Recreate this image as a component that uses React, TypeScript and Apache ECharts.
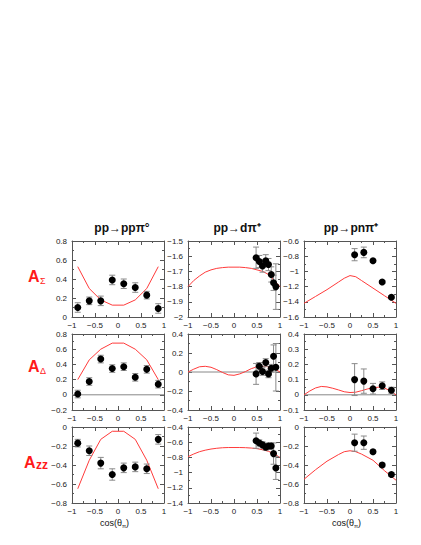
import React, { useEffect, useRef } from 'react';
import * as echarts from 'echarts';

// ---- data ----
const curveX17 = [-1, -0.875, -0.75, -0.625, -0.5, -0.375, -0.25, -0.125, 0, 0.125, 0.25, 0.375, 0.5, 0.625, 0.75, 0.875, 1];
const curveX8 = [-0.875, -0.625, -0.375, -0.125, 0.125, 0.375, 0.625, 0.875];
const curveX11 = [-1, -0.75, -0.5, -0.25, -0.125, 0, 0.125, 0.25, 0.5, 0.75, 1];

// pp -> pp pi0
const ppX = [-0.875, -0.625, -0.375, -0.125, 0.125, 0.375, 0.625, 0.875];
const ppSigmaY = [0.10, 0.17, 0.17, 0.39, 0.35, 0.31, 0.23, 0.09];
const ppSigmaE = [0.05, 0.04, 0.05, 0.05, 0.05, 0.05, 0.04, 0.05];
const ppSigmaCurve = [0.53, 0.30, 0.18, 0.125, 0.125, 0.18, 0.30, 0.53];
const ppDeltaY = [0.01, 0.175, 0.47, 0.345, 0.37, 0.23, 0.335, 0.14];
const ppDeltaE = [0.05, 0.05, 0.05, 0.05, 0.05, 0.05, 0.05, 0.05];
const ppDeltaCurve = [0.2, 0.46, 0.60, 0.68, 0.68, 0.60, 0.46, 0.2];
const ppZZY = [-0.17, -0.25, -0.38, -0.50, -0.43, -0.42, -0.44, -0.13];
const ppZZE = [0.04, 0.05, 0.06, 0.06, 0.05, 0.05, 0.05, 0.05];
const ppZZCurve = [-0.65, -0.35, -0.13, -0.045, -0.045, -0.13, -0.35, -0.65];

// pp -> d pi+
const dX = [0.48, 0.55, 0.62, 0.69, 0.75, 0.81, 0.86, 0.91];
const dSigmaY = [-1.61, -1.635, -1.665, -1.63, -1.655, -1.72, -1.775, -1.80];
const dSigmaE = [0.07, 0.04, 0.04, 0.04, 0.04, 0.05, 0.05, 0.15];
const dSigmaCurve = [-1.80, -1.76, -1.73, -1.705, -1.69, -1.68, -1.675, -1.672, -1.672, -1.672, -1.675, -1.68, -1.69, -1.70, -1.72, -1.76, -1.80];
const dDeltaY = [-0.02, 0.06, 0.005, 0.10, -0.02, 0.04, 0.165, 0.05];
const dDeltaE = [0.11, 0.04, 0.04, 0.04, 0.04, 0.04, 0.12, 0.25];
const dDeltaCurve = [0, 0.03, 0.055, 0.06, 0.05, 0.025, -0.005, -0.03, -0.035, -0.02, 0.005, 0.035, 0.055, 0.06, 0.055, 0.035, 0];
const dZZY = [-0.58, -0.61, -0.635, -0.665, -0.65, -0.65, -0.75, -0.94];
const dZZE = [0.1, 0.04, 0.04, 0.04, 0.04, 0.04, 0.14, 0.15];
const dZZCurve = [-0.79, -0.755, -0.725, -0.705, -0.69, -0.68, -0.673, -0.67, -0.67, -0.67, -0.672, -0.677, -0.685, -0.70, -0.72, -0.755, -0.80];

// pp -> pn pi+
const pnX = [0.1, 0.3, 0.5, 0.7, 0.9];
const pnSigmaY = [-0.78, -0.75, -0.86, -1.14, -1.34];
const pnSigmaE = [0.08, 0.07, 0.02, 0.02, 0.02];
const pnSigmaCurve = [-1.42, -1.33, -1.24, -1.14, -1.09, -1.055, -1.07, -1.12, -1.22, -1.32, -1.42];
const pnDeltaY = [0.10, 0.09, 0.04, 0.06, 0.03];
const pnDeltaE = [0.105, 0.08, 0.035, 0.025, 0.02];
const pnDeltaCurve = [0, 0.025, 0.045, 0.055, 0.052, 0.043, 0.032, 0.02, 0.015, 0.017, 0.027, 0.038, 0.047, 0.05, 0.045, 0.025, 0];
const pnZZY = [-0.165, -0.165, -0.26, -0.40, -0.50];
const pnZZE = [0.09, 0.07, 0.02, 0.02, 0.02];
const pnZZCurve = [-0.55, -0.45, -0.36, -0.29, -0.26, -0.25, -0.26, -0.285, -0.35, -0.46, -0.56];

const titles = ['pp→ppπ°', 'pp→dπ⁺', 'pp→pnπ⁺'];
const rowLabels = ['Σ', 'Δ', 'zz'];

type Panel = {
  px: number[]; py: number[]; pe: number[];
  cx: number[]; cy: number[];
  ymin: number; ymax: number; yint: number; zero: boolean;
};

const panels: Panel[] = [
  { px: ppX, py: ppSigmaY, pe: ppSigmaE, cx: curveX8, cy: ppSigmaCurve, ymin: 0, ymax: 0.8, yint: 0.2, zero: false },
  { px: dX, py: dSigmaY, pe: dSigmaE, cx: curveX17, cy: dSigmaCurve, ymin: -2, ymax: -1.5, yint: 0.1, zero: false },
  { px: pnX, py: pnSigmaY, pe: pnSigmaE, cx: curveX11, cy: pnSigmaCurve, ymin: -1.6, ymax: -0.6, yint: 0.2, zero: false },
  { px: ppX, py: ppDeltaY, pe: ppDeltaE, cx: curveX8, cy: ppDeltaCurve, ymin: -0.2, ymax: 0.8, yint: 0.2, zero: true },
  { px: dX, py: dDeltaY, pe: dDeltaE, cx: curveX17, cy: dDeltaCurve, ymin: -0.4, ymax: 0.4, yint: 0.2, zero: true },
  { px: pnX, py: pnDeltaY, pe: pnDeltaE, cx: curveX17, cy: pnDeltaCurve, ymin: -0.1, ymax: 0.4, yint: 0.1, zero: true },
  { px: ppX, py: ppZZY, pe: ppZZE, cx: curveX8, cy: ppZZCurve, ymin: -0.8, ymax: 0, yint: 0.2, zero: false },
  { px: dX, py: dZZY, pe: dZZE, cx: curveX17, cy: dZZCurve, ymin: -1.4, ymax: -0.4, yint: 0.2, zero: false },
  { px: pnX, py: pnZZY, pe: pnZZE, cx: curveX11, cy: pnZZCurve, ymin: -0.8, ymax: 0, yint: 0.2, zero: false },
];

const colLeft = [72, 188, 304];
const rowTop = [241, 334, 427];
const W = 92;
const H = 76;
const FONT = 'Liberation Sans, Arial, sans-serif';
const AXIS_COLOR = '#555';
const RED = '#ff3b3b';

const fmt = (v: number) => {
  const s = String(Math.round(v * 1000) / 1000);
  return s.replace('-', '−');
};

function buildOption() {
  const grid: any[] = [];
  const xAxis: any[] = [];
  const yAxis: any[] = [];
  const series: any[] = [];
  panels.forEach((p, i) => {
    const r = Math.floor(i / 3);
    const c = i % 3;
    grid.push({ left: colLeft[c], top: rowTop[r], width: W, height: H, containLabel: false });
    const common = {
      gridIndex: i,
      type: 'value',
      splitLine: { show: false },
      axisLine: { show: true, onZero: false, lineStyle: { color: AXIS_COLOR, width: 1 } },
      axisTick: { show: true, inside: true, length: 4, lineStyle: { color: AXIS_COLOR } },
      minorTick: { show: true, splitNumber: 2, length: 2, lineStyle: { color: AXIS_COLOR } },
    };
    const xlab = {
      show: true, fontSize: 8, color: '#222', fontFamily: FONT, margin: 4,
      formatter: (v: number) => fmt(v),
    };
    xAxis.push({ ...common, position: 'bottom', min: -1, max: 1, interval: 0.5, axisLabel: xlab });
    xAxis.push({ ...common, position: 'top', min: -1, max: 1, interval: 0.5, axisLabel: { show: false } });
    yAxis.push({
      ...common, position: 'left', min: p.ymin, max: p.ymax, interval: p.yint,
      axisLabel: { show: true, fontSize: 8, color: '#222', fontFamily: FONT, margin: 5, formatter: (v: number) => fmt(v) },
    });
    yAxis.push({ ...common, position: 'right', min: p.ymin, max: p.ymax, interval: p.yint, axisLabel: { show: false } });

    const xi = 2 * i;
    if (p.zero) {
      series.push({
        type: 'line', xAxisIndex: xi, yAxisIndex: xi, data: [[-1, 0], [1, 0]],
        showSymbol: false, lineStyle: { color: '#888', width: 1 }, z: 1, silent: true,
      });
    }
    series.push({
      type: 'line', xAxisIndex: xi, yAxisIndex: xi,
      data: p.cx.map((x, k) => [x, p.cy[k]]),
      showSymbol: false, smooth: false,
      lineStyle: { color: RED, width: 1 }, z: 2, silent: true,
    });
    series.push({
      type: 'custom', xAxisIndex: xi, yAxisIndex: xi,
      data: p.px.map((x, k) => [x, p.py[k], p.pe[k]]),
      encode: { x: 0, y: 1 },
      z: 3,
      renderItem: (params: any, api: any) => {
        const x = api.value(0);
        const y = api.value(1);
        const e = api.value(2);
        const t = api.coord([x, y + e]);
        const b = api.coord([x, y - e]);
        const w = 3;
        const st = { stroke: '#8a8a8a', lineWidth: 1 };
        return {
          type: 'group',
          children: [
            { type: 'line', shape: { x1: t[0], y1: t[1], x2: b[0], y2: b[1] }, style: st },
            { type: 'line', shape: { x1: t[0] - w, y1: t[1], x2: t[0] + w, y2: t[1] }, style: st },
            { type: 'line', shape: { x1: b[0] - w, y1: b[1], x2: b[0] + w, y2: b[1] }, style: st },
          ],
        };
      },
    });
    series.push({
      type: 'scatter', xAxisIndex: xi, yAxisIndex: xi,
      data: p.px.map((x, k) => [x, p.py[k]]),
      symbol: 'circle', symbolSize: 7,
      itemStyle: { color: '#000', opacity: 1 }, z: 4, silent: true,
    });
  });

  const graphic: any[] = [];
  const titleCenters = [122, 237, 351];
  titles.forEach((t, c) => {
    graphic.push({
      type: 'text', x: titleCenters[c], y: 228,
      style: { text: t, font: `bold 12px ${FONT}`, fill: '#111', textAlign: 'center', textVerticalAlign: 'middle' },
    });
  });
  const labelY = [276, 366, 462];
  rowLabels.forEach((s, r) => {
    const big = s === 'zz';
    graphic.push({
      type: 'text', x: big ? 24 : 28, y: labelY[r],
      style: { text: 'A', font: `bold 16px ${FONT}`, fill: '#ff1a1a', textAlign: 'left', textVerticalAlign: 'middle' },
    });
    graphic.push({
      type: 'text', x: big ? 36 : 40, y: labelY[r] + (big ? 3 : 5),
      style: { text: s, font: `${big ? 'bold 12px' : '9px'} ${FONT}`, fill: '#ff1a1a', textAlign: 'left', textVerticalAlign: 'middle' },
    });
  });
  [0, 2].forEach((c) => {
    const cx = colLeft[c] + W / 2;
    graphic.push({
      type: 'text', x: cx - 18, y: 523,
      style: { text: 'cos(θ', font: `9px ${FONT}`, fill: '#111', textAlign: 'left', textVerticalAlign: 'middle' },
    });
    graphic.push({
      type: 'text', x: cx + 4, y: 526,
      style: { text: 'π', font: `6px ${FONT}`, fill: '#111', textAlign: 'left', textVerticalAlign: 'middle' },
    });
    graphic.push({
      type: 'text', x: cx + 8, y: 523,
      style: { text: ')', font: `9px ${FONT}`, fill: '#111', textAlign: 'left', textVerticalAlign: 'middle' },
    });
  });

  return {
    animation: false,
    backgroundColor: '#fff',
    grid, xAxis, yAxis, series, graphic,
  };
}

export default function App() {
  const ref = useRef<HTMLDivElement>(null);
  useEffect(() => {
    if (!ref.current) return;
    const chart = echarts.init(ref.current, undefined, { renderer: 'svg' });
    chart.setOption(buildOption() as any);
    return () => chart.dispose();
  }, []);
  return (
    <div
      ref={ref}
      style={{ position: 'fixed', left: 0, top: 0, width: 421, height: 545, background: '#fff' }}
    />
  );
}
